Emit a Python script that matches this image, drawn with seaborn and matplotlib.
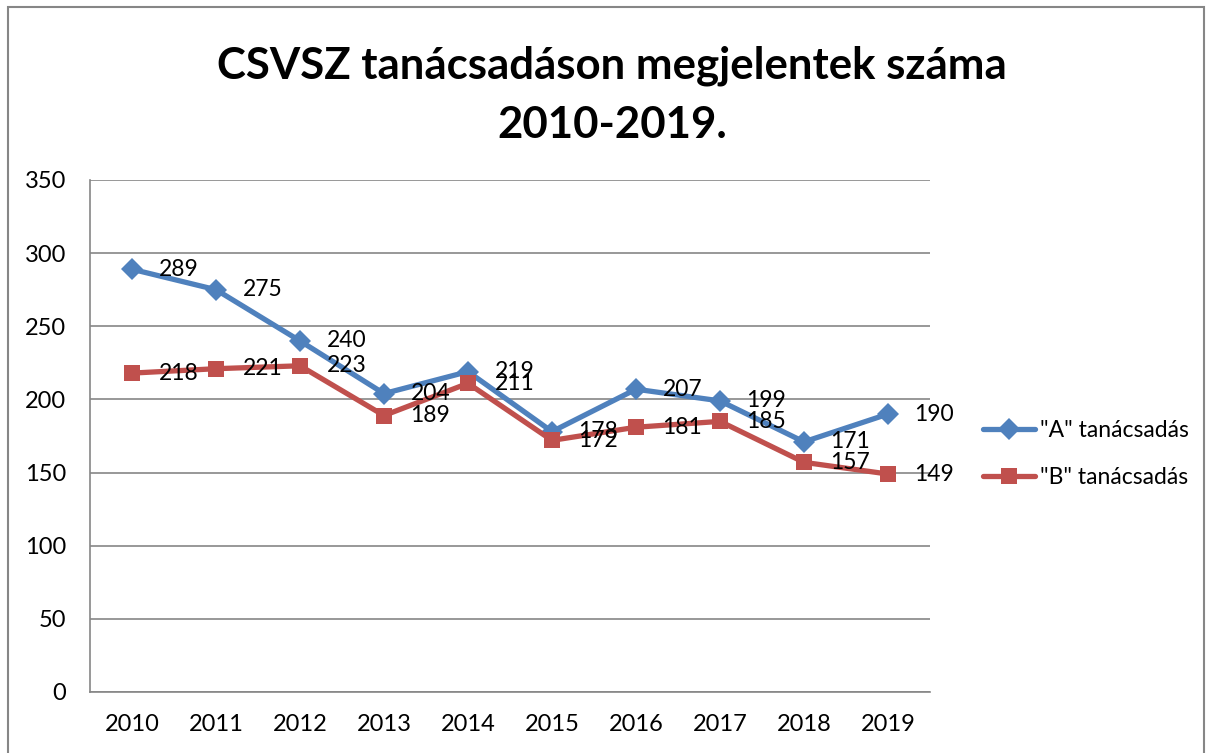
import matplotlib
matplotlib.use("Agg")
import matplotlib.pyplot as plt
import seaborn as sns
import pandas as pd
from matplotlib.patches import Rectangle

years = [2010, 2011, 2012, 2013, 2014, 2015, 2016, 2017, 2018, 2019]
a_values = [289, 275, 240, 204, 219, 178, 207, 199, 171, 190]
b_values = [218, 221, 223, 189, 211, 172, 181, 185, 157, 149]
series_names = ['"A" tanácsadás', '"B" tanácsadás']
title = "CSVSZ tanácsadáson megjelentek száma\n2010-2019."

df = pd.DataFrame({
    "Év": years * 2,
    "Érték": a_values + b_values,
    "Sorozat": [series_names[0]] * len(years) + [series_names[1]] * len(years),
})

sns.set_style("white")
plt.rcParams["font.family"] = ["Lato", "DejaVu Sans"]
plt.rcParams["text.color"] = "black"
plt.rcParams["xtick.color"] = "black"
plt.rcParams["ytick.color"] = "black"

W, H = 1214, 753
fig = plt.figure(figsize=(W / 100, H / 100), dpi=100)
ax = fig.add_axes([90 / W, (H - 692) / H, 840 / W, (692 - 180) / H])

colors = {series_names[0]: "#4F81BD", series_names[1]: "#C0504D"}
sns.lineplot(data=df, x="Év", y="Érték", hue="Sorozat", style="Sorozat",
             palette=colors, markers={series_names[0]: "D", series_names[1]: "s"},
             dashes=False, linewidth=3.8, markersize=11, markeredgewidth=0,
             ax=ax, legend=True)

# data labels to the right of each point
for name, vals in zip(series_names, [a_values, b_values]):
    for x, y in zip(years, vals):
        ax.annotate(str(y), (x, y), xytext=(19, 0), textcoords="offset points",
                    ha="left", va="center", fontsize=16.5, color="black")

ax.set_xlim(2009.5, 2019.5)
ax.set_ylim(0, 350)
ax.set_yticks(range(0, 351, 50))
ax.set_xticks(years)
ax.set_xticklabels([str(y) for y in years])
ax.tick_params(axis="both", labelsize=17, length=0)
ax.tick_params(axis="x", pad=16)
ax.tick_params(axis="y", pad=17)
ax.set_xlabel("")
ax.set_ylabel("")
ax.grid(axis="y", color="#868686", linewidth=1.2)
for side in ["top", "right"]:
    ax.spines[side].set_visible(False)
for side in ["left", "bottom"]:
    ax.spines[side].set_color("#868686")
    ax.spines[side].set_linewidth(1.2)

leg = ax.legend(loc="center left", bbox_to_anchor=(962 / W, (H - 454) / H),
                bbox_transform=fig.transFigure, frameon=False, fontsize=16.5,
                handlelength=2.3, handletextpad=0.2, labelspacing=1.15)

fig.text(0.504, 1 - 46 / H, title, ha="center", va="top", fontsize=31.5,
         fontweight="bold", linespacing=1.55, color="black")

fig.patches.append(Rectangle((8 / W, -0.05), (1204 - 8) / W, 1.05 - 7 / H,
                             transform=fig.transFigure, fill=False,
                             edgecolor="#868686", linewidth=1.5))

fig.savefig("out.png", dpi=100)
